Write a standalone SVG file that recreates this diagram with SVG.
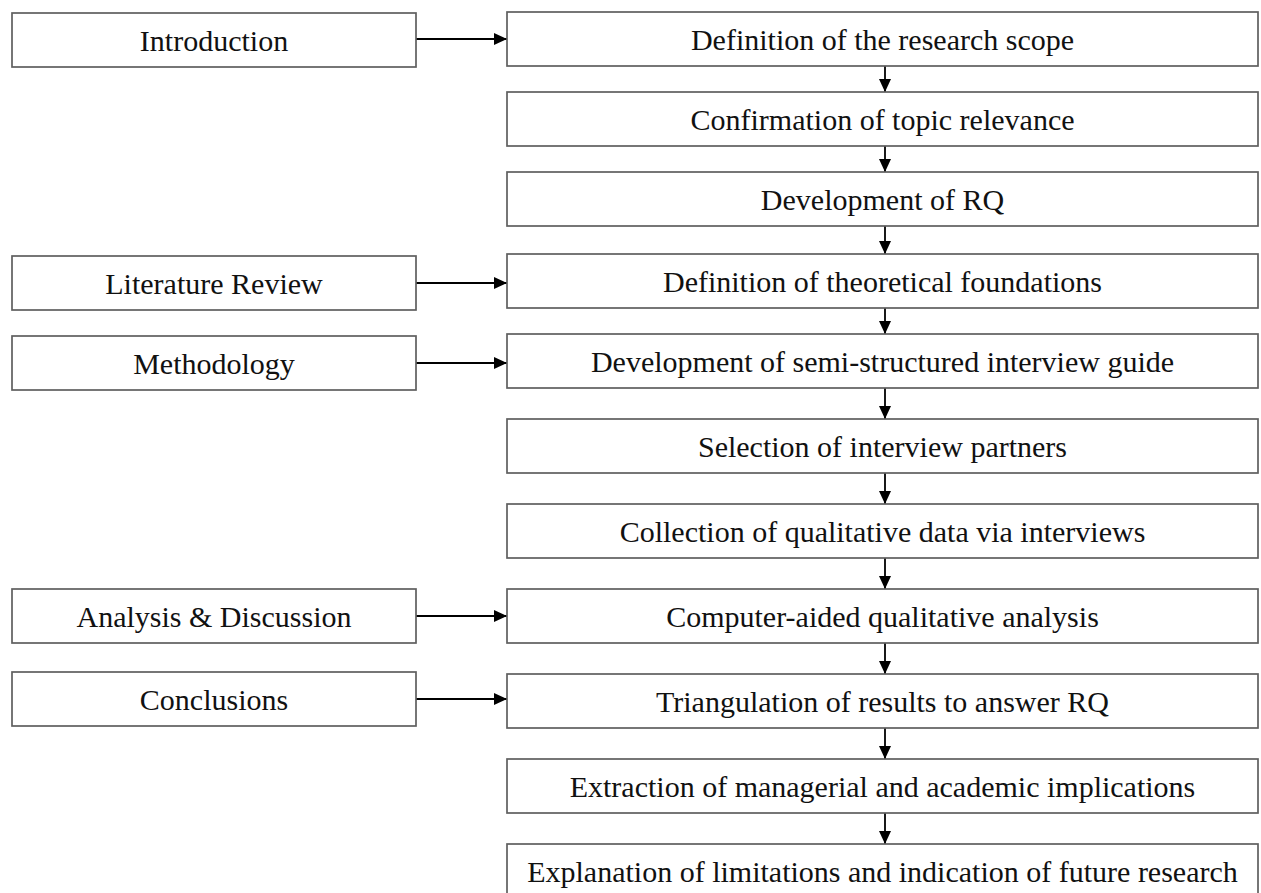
<svg xmlns="http://www.w3.org/2000/svg" width="1261" height="893" viewBox="0 0 1261 893">
<style>
.box{fill:#fff;stroke:#5f5f5f;stroke-width:1.7}
.lbl{font-family:"Liberation Serif","Times New Roman",serif;font-size:30px;fill:#111;text-anchor:middle}
.con{stroke:#000;stroke-width:1.8;fill:none;marker-end:url(#ah)}
</style>
<defs>
<marker id="ah" markerUnits="userSpaceOnUse" markerWidth="14" markerHeight="13" refX="13" refY="6" orient="auto">
<path d="M0,0 L13,6 L0,12 z" fill="#000"/>
</marker>
</defs>
<rect width="1261" height="893" fill="#fff"/>
<g id="connectors">
<line class="con" x1="416" y1="39" x2="507" y2="39"/>
<line class="con" x1="416" y1="283" x2="507" y2="283"/>
<line class="con" x1="416" y1="363" x2="507" y2="363"/>
<line class="con" x1="416" y1="616" x2="507" y2="616"/>
<line class="con" x1="416" y1="699" x2="507" y2="699"/>
<line class="con" x1="885" y1="66" x2="885" y2="92"/>
<line class="con" x1="885" y1="146" x2="885" y2="172"/>
<line class="con" x1="885" y1="226" x2="885" y2="254"/>
<line class="con" x1="885" y1="308" x2="885" y2="334"/>
<line class="con" x1="885" y1="388" x2="885" y2="419"/>
<line class="con" x1="885" y1="473" x2="885" y2="504"/>
<line class="con" x1="885" y1="558" x2="885" y2="589"/>
<line class="con" x1="885" y1="643" x2="885" y2="674"/>
<line class="con" x1="885" y1="728" x2="885" y2="759"/>
<line class="con" x1="885" y1="813" x2="885" y2="844"/>
</g>
<g id="n-intro"><rect class="box" x="12" y="13" width="404" height="54"/><text class="lbl" x="214" y="51">Introduction</text></g>
<g id="n-lit"><rect class="box" x="12" y="256" width="404" height="54"/><text class="lbl" x="214" y="294">Literature Review</text></g>
<g id="n-meth"><rect class="box" x="12" y="336" width="404" height="54"/><text class="lbl" x="214" y="374">Methodology</text></g>
<g id="n-anal"><rect class="box" x="12" y="589" width="404" height="54"/><text class="lbl" x="214" y="627">Analysis &amp; Discussion</text></g>
<g id="n-concl"><rect class="box" x="12" y="672" width="404" height="54"/><text class="lbl" x="214" y="710">Conclusions</text></g>
<g id="s1"><rect class="box" x="507" y="12" width="751" height="54"/><text class="lbl" x="882.5" y="50">Definition of the research scope</text></g>
<g id="s2"><rect class="box" x="507" y="92" width="751" height="54"/><text class="lbl" x="882.5" y="130">Confirmation of topic relevance</text></g>
<g id="s3"><rect class="box" x="507" y="172" width="751" height="54"/><text class="lbl" x="882.5" y="210">Development of RQ</text></g>
<g id="s4"><rect class="box" x="507" y="254" width="751" height="54"/><text class="lbl" x="882.5" y="292">Definition of theoretical foundations</text></g>
<g id="s5"><rect class="box" x="507" y="334" width="751" height="54"/><text class="lbl" x="882.5" y="372">Development of semi-structured interview guide</text></g>
<g id="s6"><rect class="box" x="507" y="419" width="751" height="54"/><text class="lbl" x="882.5" y="457">Selection of interview partners</text></g>
<g id="s7"><rect class="box" x="507" y="504" width="751" height="54"/><text class="lbl" x="882.5" y="542">Collection of qualitative data via interviews</text></g>
<g id="s8"><rect class="box" x="507" y="589" width="751" height="54"/><text class="lbl" x="882.5" y="627">Computer-aided qualitative analysis</text></g>
<g id="s9"><rect class="box" x="507" y="674" width="751" height="54"/><text class="lbl" x="882.5" y="712">Triangulation of results to answer RQ</text></g>
<g id="s10"><rect class="box" x="507" y="759" width="751" height="54"/><text class="lbl" x="882.5" y="797">Extraction of managerial and academic implications</text></g>
<g id="s11"><rect class="box" x="507" y="844" width="751" height="54"/><text class="lbl" x="882.5" y="882">Explanation of limitations and indication of future research</text></g>
</svg>
